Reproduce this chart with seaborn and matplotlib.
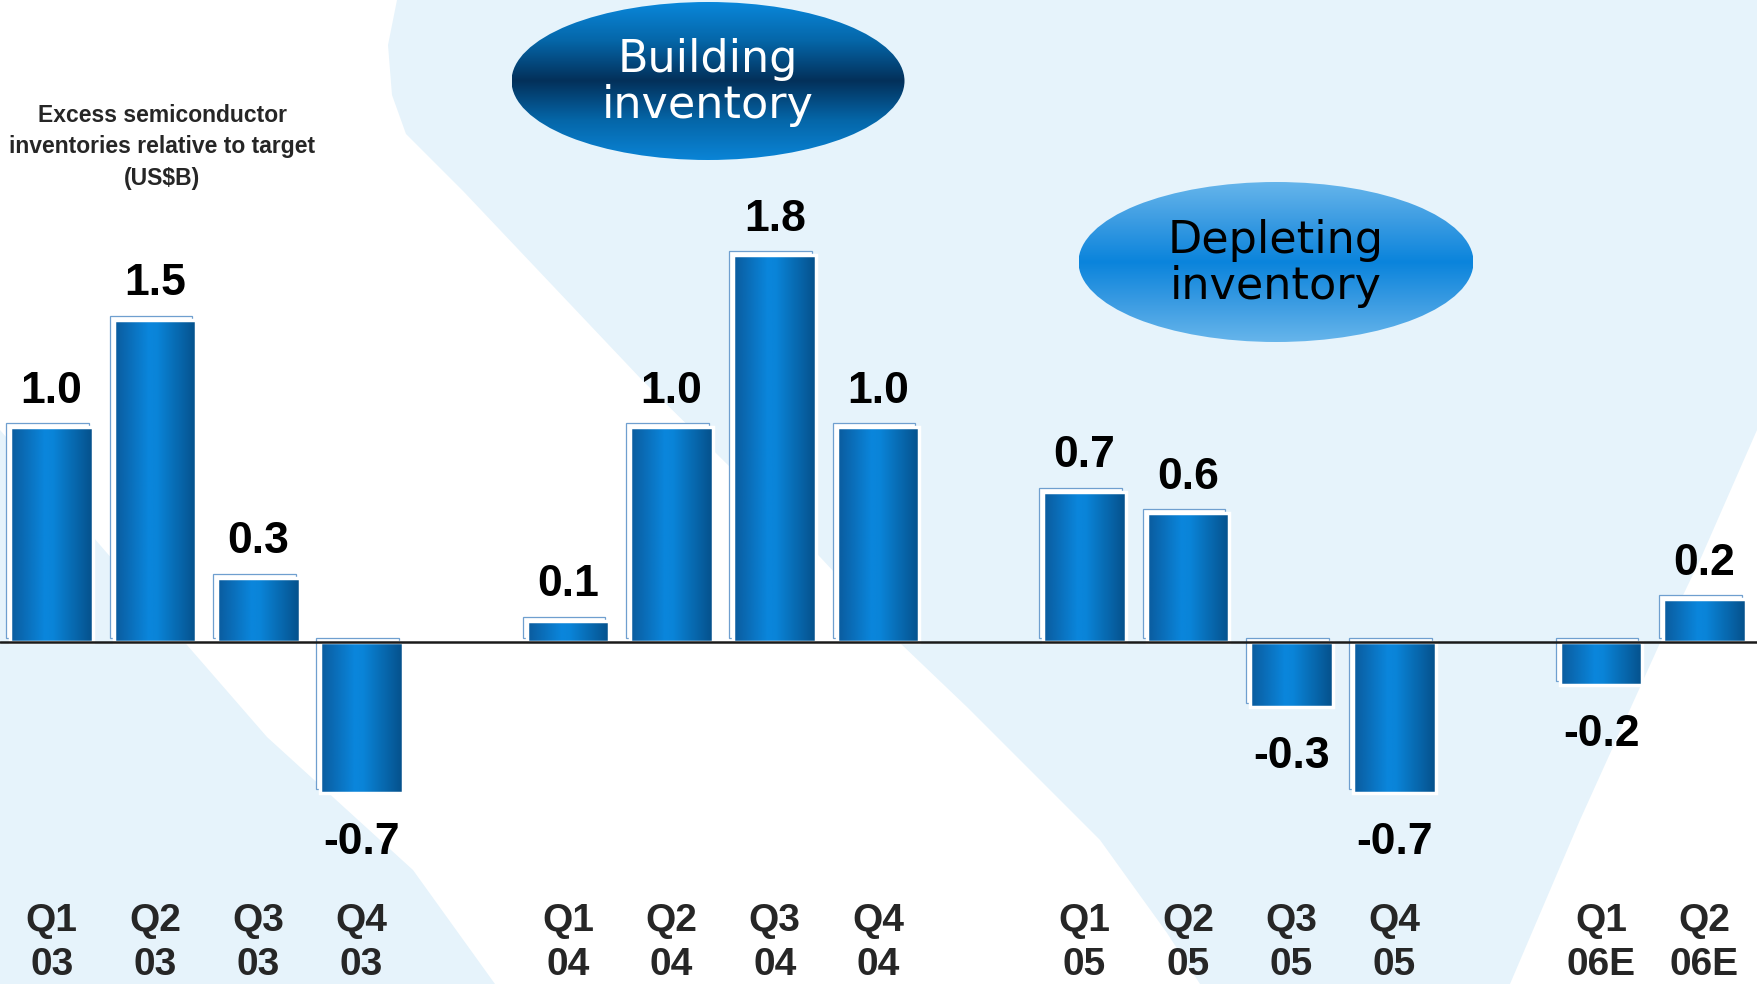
import numpy as np
import pandas as pd
import matplotlib
matplotlib.use("Agg")
import matplotlib.pyplot as plt
import matplotlib.transforms as mtransforms
import seaborn as sns
from matplotlib.colors import LinearSegmentedColormap
from matplotlib.patches import Ellipse, Polygon, Rectangle

# data
quarters = ["Q1", "Q2", "Q3", "Q4", "Q1", "Q2", "Q3", "Q4", "Q1", "Q2", "Q3", "Q4", "Q1", "Q2"]
years = ["03", "03", "03", "03", "04", "04", "04", "04", "05", "05", "05", "05", "06E", "06E"]
values = [1.0, 1.5, 0.3, -0.7, 0.1, 1.0, 1.8, 1.0, 0.7, 0.6, -0.3, -0.7, -0.2, 0.2]
note = "Excess semiconductor\ninventories relative to target\n(US$B)"
bubble1 = ["Building", "inventory"]
bubble2 = ["Depleting", "inventory"]

W, H = 1757, 984
LIGHT = "#e6f3fb"
sns.set_style("white")
plt.rcParams["font.family"] = ["Liberation Sans", "DejaVu Sans"]

periods = [q + " " + y for q, y in zip(quarters, years)]
df = pd.DataFrame({"period": periods, "value": values})
# empty slots between the years
order = []
for i, p in enumerate(periods):
    order.append(p)
    if i + 1 < len(periods) and years[i + 1] != years[i]:
        order.append(" " * (len(order) + 1))

fig = plt.figure(figsize=(W / 100, H / 100), dpi=100)

# background swoosh, in pixel coords (y down)
bg = fig.add_axes([0, 0, 1, 1], zorder=-5)
bg.set_xlim(0, W)
bg.set_ylim(H, 0)
bg.axis("off")
bg.add_patch(Rectangle((0, 0), W, H, color=LIGHT))
bg.add_patch(Polygon([(0, 0), (397, 0), (388, 45), (392, 95), (406, 134), (464, 192),
                      (553, 286), (642, 380), (732, 469), (821, 558), (900, 643),
                      (967, 707), (1033, 773), (1100, 840), (1167, 933), (1200, 984),
                      (495, 984), (413, 870), (267, 737), (187, 645), (0, 430)],
                     color="white", lw=0))
bg.add_patch(Polygon([(1757, 430), (1700, 560), (1660, 643), (1580, 820), (1510, 984),
                      (1757, 984)], color="white", lw=0))

ax = fig.add_axes([0, 0, 1, 1])
ax.patch.set_alpha(0)
sns.barplot(data=df, x="period", y="value", order=order, width=0.8,
            color="#0a86dc", saturation=1, ax=ax, zorder=3)

bar_cmap = LinearSegmentedColormap.from_list(
    "bar", [(0, "#0a5a9c"), (0.42, "#0a86dc"), (0.52, "#0a84d8"), (1, "#05508a")])
grad = np.linspace(0, 1, 256).reshape(1, -1)
shift = mtransforms.ScaledTranslation(-4 / 100, 4 / 100, fig.dpi_scale_trans)

bars = [p for p in ax.patches if abs(p.get_height()) > 0]
for p in bars:
    x, y = p.get_x(), p.get_y()
    w, h = p.get_width(), p.get_height()
    p.set_facecolor("none")
    p.set_edgecolor("white")
    p.set_linewidth(2.5)
    p.set_zorder(4)
    im = ax.imshow(grad, extent=[x, x + w, min(y, y + h), max(y, y + h)],
                   aspect="auto", cmap=bar_cmap, zorder=3.5)
    im.set_clip_path(p)
    ax.add_patch(Rectangle((x, y), w, h, facecolor="white", edgecolor="#6f9fcf",
                           lw=0.9, zorder=2.5, transform=ax.transData + shift))

ax.set_xlim(-0.5, (W - 51.6) / 103.3)
ax.set_ylim(-(H - 642) / 215, 642 / 215)
ax.axhline(0, color="#1a1a1a", lw=1.8, zorder=6)
ax.axis("off")

# value labels
for p, v in zip(bars, values):
    xc = p.get_x() + p.get_width() / 2
    ax.annotate(f"{v:.1f}", (xc, v), xytext=(0, 17.5 if v > 0 else -44),
                textcoords="offset points", ha="center", va="baseline",
                fontsize=32, fontweight="bold", color="black", zorder=7)

# category labels
tr = ax.get_xaxis_transform()
for p, q, y in zip(bars, quarters, years):
    xc = p.get_x() + p.get_width() / 2
    ax.text(xc, 1 - 931 / H, q, transform=tr, ha="center", va="baseline",
            fontsize=28, fontweight="bold")
    ax.text(xc, 1 - 975 / H, y, transform=tr, ha="center", va="baseline",
            fontsize=28, fontweight="bold")

fig.text(162 / W, 1 - 147 / H, note, ha="center", va="center", multialignment="center",
         fontsize=16.5, fontweight="bold", linespacing=1.5)


def bubble(cx, cy, bw, bh, colors, text, tcolor, base1, base2):
    bax = fig.add_axes([(cx - bw / 2) / W, 1 - (cy + bh / 2) / H, bw / W, bh / H], zorder=8)
    bax.axis("off")
    cm = LinearSegmentedColormap.from_list("b", colors)
    img = bax.imshow(np.linspace(0, 1, 256).reshape(-1, 1), extent=[0, 1, 0, 1],
                     aspect="auto", cmap=cm)
    img.set_clip_path(Ellipse((0.5, 0.5), 1, 1, transform=bax.transAxes))
    fam = ["DejaVu Sans Condensed", "DejaVu Sans"]
    fig.text(cx / W, 1 - base1 / H, text[0], ha="center", va="baseline", color=tcolor,
             fontsize=32, family=fam, zorder=9)
    fig.text(cx / W, 1 - base2 / H, text[1], ha="center", va="baseline", color=tcolor,
             fontsize=32, family=fam, zorder=9)


bubble(708, 81, 393, 158,
       ["#0a88dc", "#0566a8", "#03305a", "#0566a8", "#0a84d6"],
       bubble1, "white", 72, 118)
bubble(1276, 262, 395, 160,
       ["#66b5eb", "#3a9be2", "#0a84dc", "#3a9be2", "#66b5eb"],
       bubble2, "black", 253, 299)

fig.savefig("out.png", dpi=100)
